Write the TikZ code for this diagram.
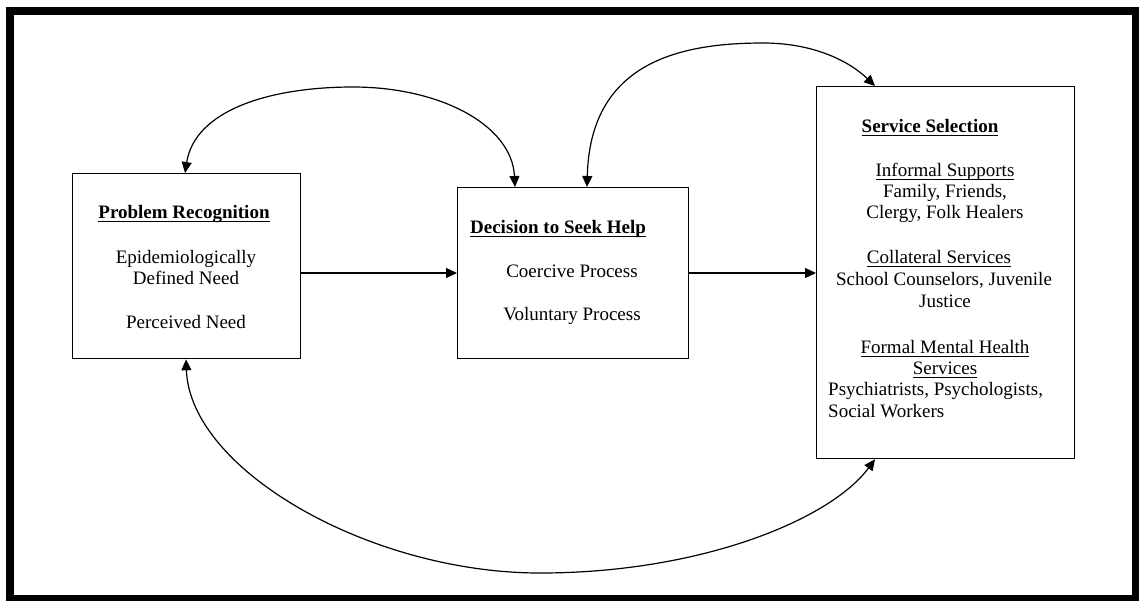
\documentclass[tikz,border=0pt]{standalone}
\usepackage{fontspec}
\setmainfont{Liberation Serif}
\usetikzlibrary{arrows.meta}
\newcommand\myul[1]{{\setbox0\hbox{#1}\rlap{\rule[-3.5pt]{\wd0}{1pt}}\box0}}
\begin{document}
\begin{tikzpicture}[x=1pt,y=-1pt,
  box/.style={draw, line width=1.3pt, rectangle, anchor=north west, inner sep=0pt},
  txt/.style={anchor=base, inner sep=0pt, font=\fontsize{19}{21}\selectfont},
  head/.style={anchor=base, inner sep=0pt, font=\fontsize{19}{21}\selectfont\bfseries},
  ltxt/.style={anchor=base west, inner sep=0pt, font=\fontsize{19}{21}\selectfont},
  tip/.tip={Triangle[length=11pt,width=10pt]},
  conn/.style={line width=1.2pt, -tip},
  dconn/.style={line width=1.2pt, tip-tip}]
\useasboundingbox (0,0) rectangle (1139,600);
\draw[line width=8pt] (10,11) rectangle (1135.5,599);

% boxes
\node[box, minimum width=228pt, minimum height=185pt] (b1) at (72,173) {};
\node[box, minimum width=231pt, minimum height=171pt] (b2) at (457,187) {};
\node[box, minimum width=258pt, minimum height=372pt] (b3) at (816,86) {};

% box 1 text
\node[head] (t1) at (184,218) {\myul{Problem Recognition}};
\node[txt] (t1a) at (186,263) {Epidemiologically};
\node[txt] (t1b) at (186,284) {Defined Need};
\node[txt] (t1c) at (186,328) {Perceived Need};

% box 2 text
\node[head] (t2) at (558,233) {\myul{Decision to Seek Help}};
\node[txt] (t2a) at (572,277) {Coercive Process};
\node[txt] (t2b) at (572,320) {Voluntary Process};

% box 3 text
\node[head] (t3) at (930,132) {\myul{Service Selection}};
\node[txt] (t3a) at (945,176) {\myul{Informal Supports}};
\node[txt] (t3b) at (945,197) {Family, Friends,};
\node[txt] (t3c) at (945,218) {Clergy, Folk Healers};
\node[txt] (t3d) at (939,263) {\myul{Collateral Services}};
\node[txt] (t3e) at (944,285) {School Counselors, Juvenile};
\node[txt] (t3f) at (945,307) {Justice};
\node[txt] (t3g) at (945,353) {\myul{Formal Mental Health}};
\node[txt] (t3h) at (945,374) {\myul{Services}};
\node[ltxt] (t3i) at (828,395) {Psychiatrists, Psychologists,};
\node[ltxt] (t3j) at (828,417) {Social Workers};

% helper coordinates
\coordinate (ym) at (0,273);
\coordinate (xa) at (185,0);
\coordinate (xb) at (515,0);
\coordinate (xc) at (587,0);
\coordinate (xd) at (875,0);
\coordinate (xe) at (186,0);
\coordinate (xf) at (875,0);

% straight connectors
\draw[conn] (b1.east |- ym) -- (b2.west |- ym);
\draw[conn] (b2.east |- ym) -- (b3.west |- ym);

% curved connectors
\draw[dconn] (b1.north -| xa) .. controls (195,110) and (270,87) .. (353,87)
   .. controls (440,87) and (512,125) .. (b2.north -| xb);
\draw[dconn] (b2.north -| xc) .. controls (590,65) and (675,43) .. (763,43)
   .. controls (815,43) and (850,62) .. (b3.north -| xd);
\draw[dconn] (b1.south -| xe) .. controls (190,470) and (370,573) .. (540,573)
   .. controls (700,573) and (830,520) .. (b3.south -| xf);
\end{tikzpicture}
\end{document}
